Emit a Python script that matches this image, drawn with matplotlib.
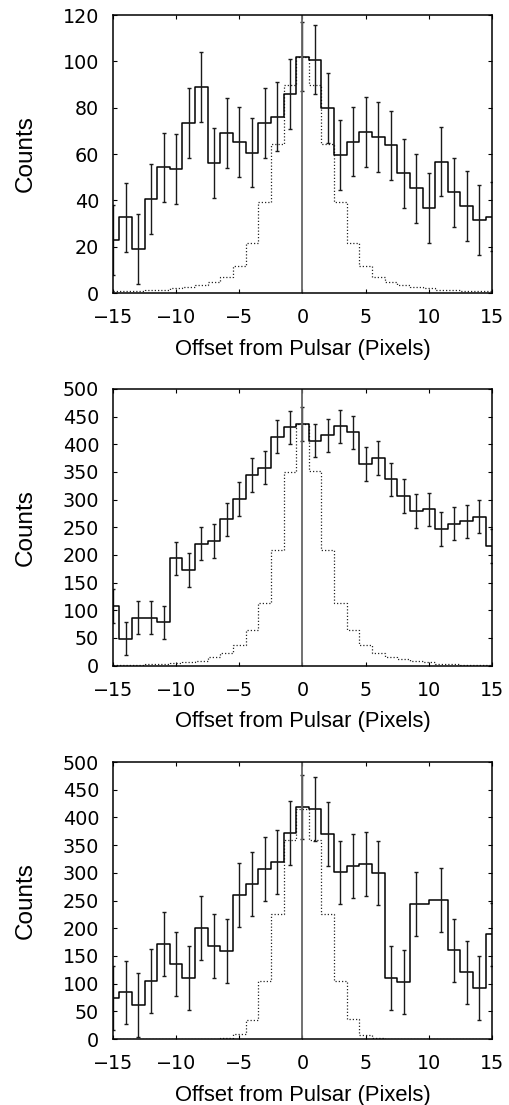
import numpy as np
import matplotlib
matplotlib.use('Agg')
import matplotlib.pyplot as plt

plt.rcParams['font.family'] = ['Liberation Sans', 'DejaVu Sans']

# pixel offsets (bin centres)
offsets = list(range(-15, 16))

# panel 1 : counts, constant error, and scaled PSF profile (dotted)
counts1 = [22.8, 32.7, 19.0, 40.5, 54.2, 53.6, 73.5, 88.9, 56.2, 69.1, 65.2,
           60.6, 73.5, 76.2, 86.0, 102.0, 100.7, 79.9, 59.6, 65.4, 69.6, 67.3,
           63.7, 51.7, 45.2, 36.6, 56.7, 43.5, 37.6, 31.5, 33.0]
err1 = 15.0
psf1 = [0.7, 0.8, 1.0, 1.2, 1.5, 2.0, 2.6, 3.3, 4.6, 6.8, 11.5, 21.5, 39.3,
        64.5, 90.0, 102.0, 90.0, 64.5, 39.3, 21.5, 11.5, 6.8, 4.6, 3.3, 2.6,
        2.0, 1.5, 1.2, 1.0, 0.8, 0.7]

# panel 2
counts2 = [107.8, 48.8, 86.7, 86.7, 78.3, 194.0, 172.9, 220.5, 225.3, 264.5,
           301.2, 344.6, 357.8, 413.9, 430.7, 436.7, 406.6, 416.3, 432.5,
           421.7, 364.5, 375.3, 336.7, 306.6, 279.5, 282.5, 247.0, 256.6,
           260.8, 269.3, 216.3]
err2 = 30.0
psf2 = [1.0, 1.2, 1.8, 2.4, 3.6, 4.5, 6.0, 9.0, 16.3, 22.9, 37.3, 63.9, 112.7,
        208.4, 350.0, 436.0, 351.8, 208.4, 112.7, 63.9, 37.3, 23.5, 16.3,
        11.4, 8.4, 6.0, 3.6, 2.4, 1.8, 1.2, 1.0]

# panel 3 (no point at offset +10)
offsets3 = [o for o in offsets if o != 10]
counts3 = [74.6, 84.2, 61.4, 104.7, 170.9, 134.8, 110.1, 199.8, 168.5, 159.4,
           259.9, 279.2, 306.3, 318.9, 372.4, 418.8, 415.2, 370.6, 300.8,
           311.7, 315.3, 300.2, 110.7, 102.9, 243.7, 251.5, 160.0, 120.3,
           91.5, 188.9]
err3 = 57.5
psf3 = [0, 0, 0, 0, 0, 0, 0, 0, 0, 1.0, 8.4, 34.3, 104.7, 225.0, 359.2, 415.0,
        359.2, 225.0, 104.7, 35.5, 7.8, 1.0, 0, 0, 0, 0, 0, 0, 0, 0]

panels = [
    (offsets, counts1, err1, psf1, 120, 20),
    (offsets, counts2, err2, psf2, 500, 50),
    (offsets3, counts3, err3, psf3, 500, 50),
]

fig = plt.figure(figsize=(5.09, 11.05), dpi=100)
boxes = [(0.222, 0.7348, 0.7446, 0.2516),
         (0.222, 0.3976, 0.7446, 0.2504),
         (0.222, 0.0597, 0.7446, 0.2507)]

for box, (x, y, e, psf, ymax, ystep) in zip(boxes, panels):
    ax = fig.add_axes(box)
    ax.step(x, psf, where='mid', color='0.15', lw=0.9, linestyle=(0, (1, 1.6)))
    ax.step(x, y, where='mid', color='black', lw=1.1)
    ax.errorbar(x, y, yerr=e, fmt='none', ecolor='0.1', elinewidth=1.0,
                capsize=1.6, capthick=1.0)
    ax.axvline(0, color='0.4', lw=1.3)
    ax.set_xlim(-15, 15)
    ax.set_ylim(0, ymax)
    ax.set_xticks(np.arange(-15, 16, 5))
    ax.set_yticks(np.arange(0, ymax + 1, ystep))
    ax.tick_params(direction='in', top=True, right=True, length=3.2,
                   width=0.8, labelsize=13.8)
    ax.tick_params(axis='y', pad=10)
    ax.tick_params(axis='x', pad=11)
    for lab in ax.get_xticklabels() + ax.get_yticklabels():
        lab.set_fontfamily('DejaVu Sans')
    for s in ax.spines.values():
        s.set_linewidth(1.1)
    ax.set_xlabel('Offset from Pulsar (Pixels)', fontsize=15.8, va='center')
    ax.xaxis.set_label_coords(0.5, -0.203)
    ax.set_ylabel('Counts', fontsize=17.5, va='center')
    ax.yaxis.set_label_coords(-0.2296, 0.5)

fig.savefig('out.png', dpi=100)
